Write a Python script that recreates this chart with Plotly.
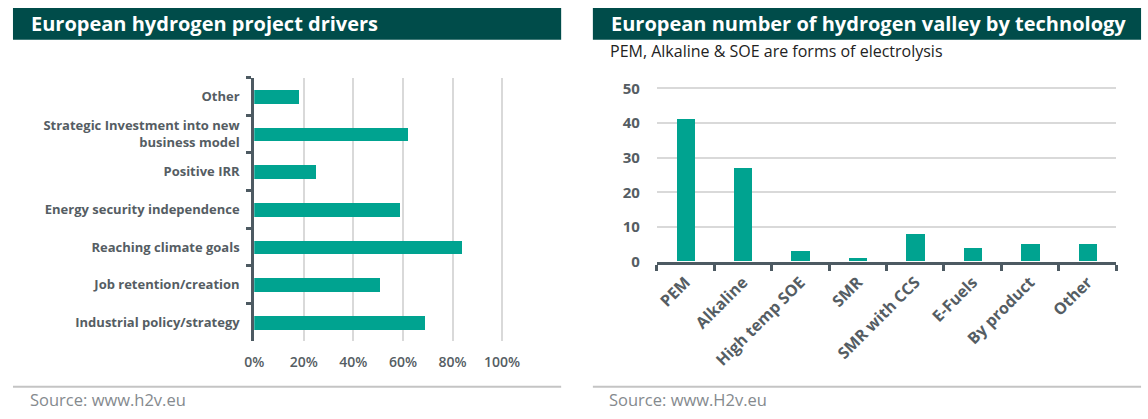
import plotly.graph_objects as go

W, H = 1148, 419

# ---- Data ----
drivers = [
    "Other",
    "Strategic Investment into new<br>business model",
    "Positive IRR",
    "Energy security independence",
    "Reaching climate goals",
    "Job retention/creation",
    "Industrial policy/strategy",
]
driver_share = [0.18, 0.62, 0.25, 0.59, 0.84, 0.51, 0.69]

technologies = ["PEM", "Alkaline", "High temp SOE", "SMR", "SMR with CCS",
                "E-Fuels", "By product", "Other"]
valley_counts = [41, 27, 3, 1, 8, 4, 5, 5]

left_title = "European hydrogen project drivers"
right_title = "European number of hydrogen valley by technology"
right_subtitle = "PEM, Alkaline & SOE are forms of electrolysis"
left_source = "Source: www.h2v.eu"
right_source = "Source: www.H2v.eu"

TEAL = "#00a390"
BAND = "#004c4a"
AXIS = "#4d5a62"
GRID = "#d9d9d9"
LABEL = "#555d63"
FONT = "Open Sans"


def px_x(p):
    return p / W


def px_y(p):
    return 1 - p / H


fig = go.Figure()

fig.add_trace(go.Bar(
    y=drivers, x=driver_share, orientation="h",
    marker=dict(color=TEAL, line=dict(width=0)),
    width=0.36, xaxis="x", yaxis="y", hoverinfo="x+y",
))

fig.add_trace(go.Bar(
    x=technologies, y=valley_counts,
    marker=dict(color=TEAL, line=dict(width=0)),
    width=0.32, xaxis="x2", yaxis="y2",
))

# left axes geometry: 0% at 246.4px, 250px per 100%
x0_left = 246.4
x_right_left = x0_left + 250 * 1.08

# right axes geometry: 0 at 266px, 3.58px per unit
y0_right = 266
y_top_right = y0_right - 3.58 * 52

fig.update_layout(
    width=W, height=H,
    margin=dict(l=0, r=0, t=0, b=0),
    paper_bgcolor="white", plot_bgcolor="white",
    showlegend=False,
    bargap=0,
    font=dict(family=FONT, color=LABEL),
    xaxis=dict(
        domain=[px_x(x0_left), px_x(x_right_left)],
        range=[0, 1.08], anchor="y",
        tickvals=[0, 0.2, 0.4, 0.6, 0.8, 1.0],
        tickformat=".0%",
        showgrid=True, gridcolor=GRID, gridwidth=2,
        zeroline=False, showline=False, ticks="",
        tickfont=dict(family=FONT, size=14, color=LABEL, weight=600),
        ticklabelstandoff=11, fixedrange=True,
    ),
    yaxis=dict(
        domain=[px_y(348), px_y(76)],
        anchor="x",
        autorange="reversed",
        showline=True, linecolor=AXIS, linewidth=3,
        ticks="outside", tickson="boundaries", ticklen=5,
        tickwidth=3, tickcolor=AXIS,
        showgrid=False, zeroline=False,
        tickfont=dict(family=FONT, size=13, color=LABEL, weight="bold"),
        ticklabelstandoff=9, fixedrange=True,
    ),
    xaxis2=dict(
        domain=[px_x(652.5), px_x(1116)],
        anchor="y2",
        showline=True, linecolor=AXIS, linewidth=3,
        ticks="outside", tickson="boundaries", ticklen=6,
        tickwidth=3, tickcolor=AXIS,
        tickangle=-45,
        showgrid=False, zeroline=False,
        tickfont=dict(family=FONT, size=16, color=LABEL, weight="bold"),
        ticklabelstandoff=2, fixedrange=True,
    ),
    yaxis2=dict(
        domain=[px_y(y0_right), px_y(y_top_right)],
        anchor="x2",
        range=[0, 52],
        tickvals=[0, 10, 20, 30, 40, 50],
        showgrid=True, gridcolor=GRID, gridwidth=1.5,
        zeroline=False, showline=False, ticks="",
        tickfont=dict(family=FONT, size=15, color=LABEL, weight="bold"),
        ticklabelstandoff=16, fixedrange=True,
    ),
)

shapes = [
    dict(type="rect", xref="paper", yref="paper",
         x0=px_x(3), x1=px_x(556), y0=px_y(37), y1=px_y(4),
         fillcolor=BAND, line=dict(width=0), layer="below"),
    dict(type="rect", xref="paper", yref="paper",
         x0=px_x(588), x1=px_x(1141), y0=px_y(37), y1=px_y(4),
         fillcolor=BAND, line=dict(width=0), layer="below"),
    dict(type="line", xref="paper", yref="paper",
         x0=px_x(3), x1=px_x(556), y0=px_y(395), y1=px_y(395),
         line=dict(color="#c4c4c4", width=2)),
    dict(type="line", xref="paper", yref="paper",
         x0=px_x(588), x1=px_x(1141), y0=px_y(395), y1=px_y(395),
         line=dict(color="#c4c4c4", width=2)),
]
fig.update_layout(shapes=shapes)

annotations = [
    dict(text=left_title, x=px_x(19), y=px_y(20.5), xref="paper", yref="paper",
         xanchor="left", yanchor="middle", showarrow=False,
         font=dict(family=FONT, size=20, color="white", weight="bold")),
    dict(text=right_title, x=px_x(604), y=px_y(20.5), xref="paper", yref="paper",
         xanchor="left", yanchor="middle", showarrow=False,
         font=dict(family=FONT, size=20, color="white", weight="bold")),
    dict(text=right_subtitle, x=px_x(603), y=px_y(49), xref="paper", yref="paper",
         xanchor="left", yanchor="middle", showarrow=False,
         font=dict(family=FONT, size=16, color="#222222")),
    dict(text=left_source, x=px_x(18), y=px_y(408), xref="paper", yref="paper",
         xanchor="left", yanchor="middle", showarrow=False,
         font=dict(family=FONT, size=16.5, color="#858a8e")),
    dict(text=right_source, x=px_x(602), y=px_y(408), xref="paper", yref="paper",
         xanchor="left", yanchor="middle", showarrow=False,
         font=dict(family=FONT, size=16.5, color="#858a8e")),
]
fig.update_layout(annotations=annotations)

fig.write_html(
    "out.html",
    config={"displayModeBar": False},
    post_script=(
        "document.body.style.margin='0';"
        "document.body.style.overflow='hidden';"
        "document.documentElement.style.overflow='hidden';"
    ),
)
